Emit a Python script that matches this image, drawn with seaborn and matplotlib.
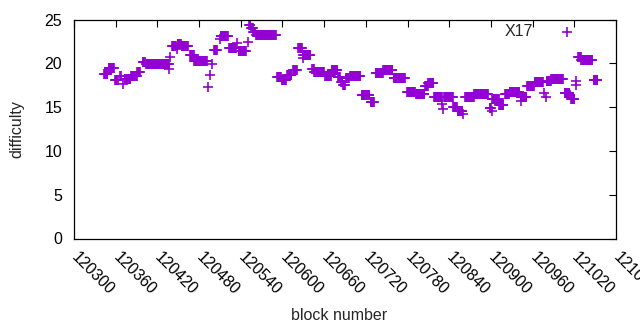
"""
Dificultad por bloque (X17) - recreación del gráfico estilo gnuplot
"""

import numpy as np
import pandas as pd
import matplotlib
matplotlib.use("Agg")
import matplotlib.pyplot as plt
import seaborn as sns

# tramos de dificultad: bloque inicial, bloque final, dificultad
run_start = [120343, 120350, 120359, 120366, 120371, 120373, 120382, 120391, 120399, 120404,
             120437, 120438, 120441, 120448, 120449, 120455, 120467, 120473, 120493, 120495,
             120498, 120502, 120510, 120511, 120523, 120534, 120537, 120550, 120552, 120555,
             120558, 120562, 120592, 120599, 120607, 120615, 120623, 120629, 120630, 120643,
             120646, 120661, 120671, 120680, 120684, 120687, 120692, 120697, 120714, 120727,
             120734, 120745, 120760, 120779, 120792, 120805, 120810, 120818, 120830, 120831,
             120833, 120846, 120852, 120860, 120863, 120876, 120898, 120901, 120902, 120912,
             120920, 120927, 120943, 120944, 120952, 120963, 120977, 120979, 120980, 120987,
             121006, 121014, 121015, 121022, 121023, 121026, 121030, 121048]
run_end = [120348, 120357, 120363, 120367, 120371, 120381, 120390, 120395, 120402, 120436,
           120437, 120438, 120447, 120448, 120454, 120464, 120472, 120491, 120493, 120495,
           120498, 120506, 120510, 120521, 120533, 120534, 120547, 120550, 120554, 120557,
           120561, 120590, 120598, 120605, 120613, 120621, 120628, 120629, 120640, 120645,
           120660, 120670, 120679, 120683, 120686, 120690, 120696, 120712, 120725, 120732,
           120744, 120758, 120776, 120791, 120804, 120809, 120817, 120829, 120830, 120831,
           120845, 120851, 120859, 120860, 120875, 120896, 120900, 120901, 120911, 120918,
           120926, 120941, 120951, 120944, 120962, 120975, 120977, 120979, 120986, 121004,
           121013, 121014, 121020, 121022, 121023, 121029, 121046, 121053]
run_difficulty = [18.8, 19.5, 18.1, 18.5, 17.6, 18.2, 18.5, 19.0, 20.2, 19.9,
                  19.3, 20.7, 22.0, 21.6, 22.2, 22.0, 20.9, 20.3, 17.3, 18.7,
                  19.9, 21.5, 22.8, 23.1, 21.7, 22.3, 21.4, 22.4, 24.4, 24.0,
                  23.6, 23.2, 18.4, 18.05, 18.7, 19.2, 21.8, 20.6, 20.9, 19.3,
                  19.0, 18.6, 19.2, 18.4, 17.9, 17.5, 18.3, 18.6, 16.4, 15.6,
                  18.85, 19.2, 18.3, 16.7, 16.5, 17.4, 17.7, 16.1, 15.3, 14.8,
                  16.1, 15.0, 14.6, 14.2, 16.2, 16.45, 14.9, 14.6, 15.9, 15.2,
                  16.45, 16.7, 16.1, 15.7, 17.4, 17.9, 16.6, 16.2, 18.0, 18.2,
                  16.6, 16.4, 15.9, 18.0, 17.5, 20.7, 20.35, 18.05]

x_ticks = list(range(120300, 121081, 60))
y_ticks = [0, 5, 10, 15, 20, 25]

# un punto por bloque dentro de cada tramo
blocks, diffs = [], []
for a, b, d in zip(run_start, run_end, run_difficulty):
    for blk in range(a, b + 1):
        blocks.append(blk)
        diffs.append(d)
df = pd.DataFrame({"block": blocks, "difficulty": diffs})

sns.set_theme(style="white")
plt.rcParams["font.family"] = ["Liberation Sans", "DejaVu Sans"]
fs = 11.5

fig = plt.figure(figsize=(6.4, 3.3), dpi=100)
ax = fig.add_axes([74 / 640, 1 - 238.5 / 330, 542 / 640, 219 / 330])

sns.scatterplot(data=df, x="block", y="difficulty", ax=ax, marker="+",
                color="#9400D3", s=45, linewidth=1.2, label="X17")

ax.set_xlim(120300, 121080)
ax.set_ylim(0, 25)
ax.set_xticks(x_ticks)
ax.set_yticks(y_ticks)
ax.set_xticklabels([str(t) for t in x_ticks], rotation=-45, ha="left", va="center",
                   rotation_mode="anchor", fontsize=fs)
ax.set_yticklabels([str(t) for t in y_ticks], fontsize=fs)
ax.tick_params(direction="in", length=5, width=0.8, top=True, right=True,
               colors="black")
ax.tick_params(axis="y", pad=8.5)
ax.tick_params(axis="x", pad=12)
for sp in ax.spines.values():
    sp.set_color("black")
    sp.set_linewidth(0.9)

ax.set_xlabel("block number", fontsize=fs, va="center")
ax.xaxis.set_label_coords((339 - 74) / 542, (238.5 - 315) / 219)
ax.set_ylabel("difficulty", fontsize=fs, va="center")
ax.yaxis.set_label_coords((17 - 74) / 542, 0.5)

ax.legend(loc="center right", bbox_to_anchor=(0.95, 0.943), frameon=False,
          markerfirst=False, handlelength=2.7, handletextpad=0.8, borderpad=0,
          borderaxespad=0, fontsize=fs)

fig.savefig("out.png", dpi=100)
